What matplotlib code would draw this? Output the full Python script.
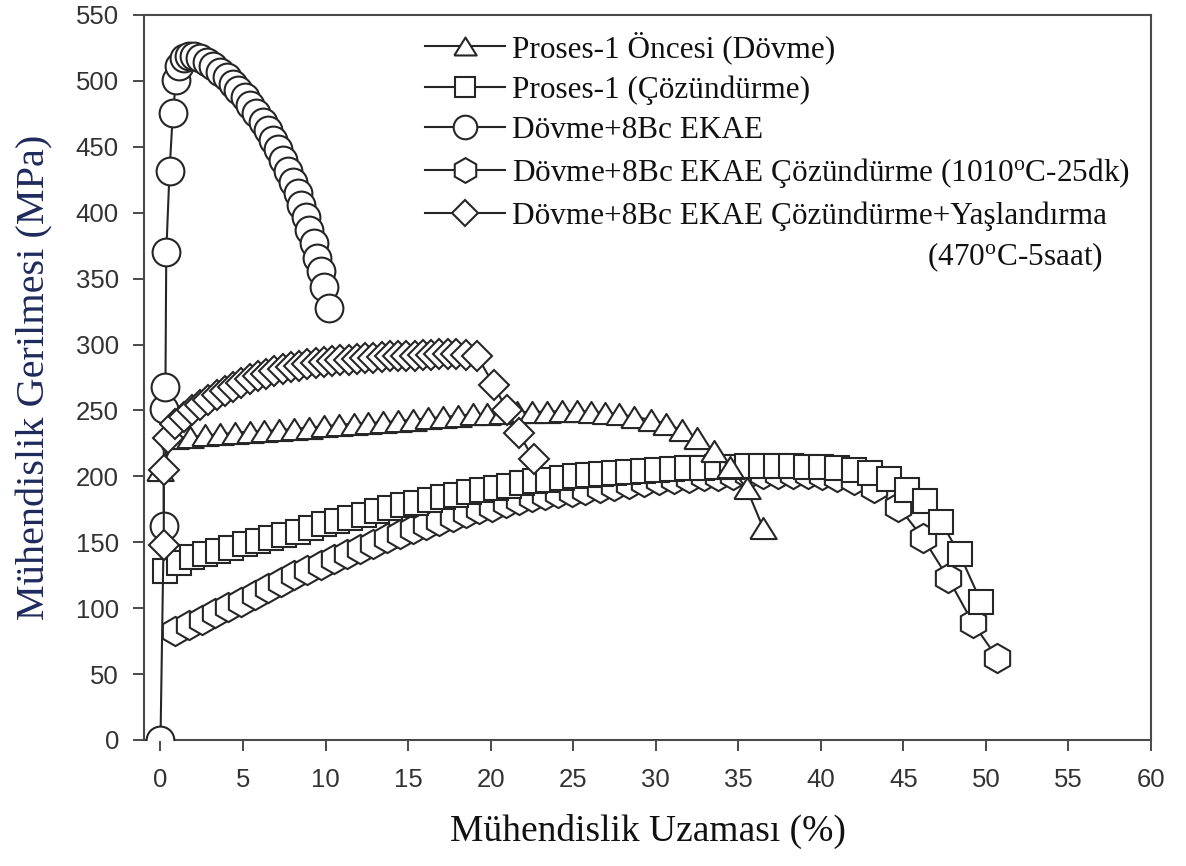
import matplotlib
matplotlib.use('Agg')
import matplotlib.pyplot as plt

plt.rcParams['mathtext.fontset'] = 'custom'
plt.rcParams['mathtext.rm'] = 'Liberation Serif'
plt.rcParams['mathtext.it'] = 'Liberation Serif'

# Proses-1 Öncesi (Dövme)
tri_x = [0.0, 0.9, 1.8, 2.7, 3.6, 4.5, 5.4, 6.3, 7.2, 8.1, 9.0, 9.9, 10.8, 11.7,
         12.6, 13.5, 14.4, 15.3, 16.2, 17.1, 18.0, 18.9, 19.8, 20.7, 21.6, 22.5,
         23.4, 24.3, 25.2, 26.1, 26.9, 27.8, 28.7, 29.7, 30.6, 31.6, 32.5, 33.5,
         34.5, 35.5, 36.5]
tri_y = [205, 229, 230, 231, 232, 233, 234, 234.5, 235, 236, 237, 238, 239, 240,
         240.5, 241, 242, 243, 244, 245, 246, 247, 247.5, 248, 248.5, 249,
         249, 249.5, 249.5, 249, 248, 247, 245, 243, 240, 235, 229, 219,
         207, 191, 161]

# Proses-1 (Çözündürme)
sq_x = [0.3, 1.1, 1.9, 2.7, 3.5, 4.3, 5.1, 5.9, 6.7, 7.5, 8.3, 9.1, 9.9, 10.7,
        11.5, 12.3, 13.1, 13.9, 14.7, 15.5, 16.3, 17.1, 17.9, 18.7, 19.5, 20.3,
        21.1, 21.9, 22.7, 23.5, 24.3, 25.1, 25.9, 26.7, 27.5, 28.3, 29.2, 30.1,
        31.0, 31.9, 32.8, 33.7, 34.6, 35.5, 36.4, 37.3, 38.2, 39.1, 40.0, 41.0,
        42.0, 43.0, 44.1, 45.2, 46.3, 47.3, 48.4, 49.7]
sq_y = [128, 134, 139, 141, 143.5, 146, 148.5, 151, 153, 155.5, 158, 160.5, 163.5, 166,
        168.5, 171, 173.5, 176, 178, 180, 182, 184, 186, 188, 190, 191.5,
        193, 195, 196.5, 197.5, 198.5, 200, 201, 202, 202.5, 203, 204, 205,
        205.5, 206, 206.5, 207, 207, 207.5, 207.5, 207.5, 207.5, 207, 207, 206,
        205, 202.5, 198, 190, 181, 165, 141, 105]

# Dövme+8Bc EKAE
cir_x = [0.0, 0.2, 0.2, 0.3, 0.35, 0.55, 0.75, 0.95, 1.15, 1.4, 1.7, 2.0, 2.4,
         2.8, 3.2, 3.6, 4.0, 4.4, 4.7, 5.1, 5.4, 5.8, 6.2, 6.5, 6.8, 7.1, 7.4,
         7.7, 8.0, 8.3, 8.5, 8.8, 9.0, 9.3, 9.5, 9.7, 9.9, 10.2]
cir_y = [0, 162, 251, 268, 370, 432, 476, 501, 511, 517, 519, 519, 517,
         514, 511, 507, 503, 498, 493, 488, 482, 476, 469, 463, 455, 448, 440,
         432, 423, 415, 406, 397, 387, 377, 366, 356, 344, 328]

# Dövme+8Bc EKAE Çözündürme (1010°C-25dk)
hex_x = [0.9, 1.7, 2.5, 3.3, 4.1, 4.9, 5.7, 6.5, 7.3, 8.1, 8.9, 9.7, 10.5, 11.3,
         12.1, 12.9, 13.7, 14.5, 15.3, 16.1, 16.9, 17.7, 18.5, 19.3, 20.1, 20.9,
         21.7, 22.5, 23.3, 24.1, 24.9, 25.7, 26.6, 27.5, 28.4, 29.3, 30.2, 31.1,
         32.0, 32.9, 33.8, 34.7, 35.6, 36.5, 37.4, 38.3, 39.2, 40.1, 41.0, 42.0,
         43.2, 44.7, 46.2, 47.7, 49.2, 50.7]
hex_y = [83, 87, 91, 96, 101, 105, 110, 115, 120, 125, 129, 133, 137, 141,
         145, 149, 153, 156, 160, 163, 166, 169, 172, 175, 177, 180,
         182, 184, 185.5, 187, 188.5, 190, 191.5, 193, 194.5, 196, 197, 198,
         199, 200, 200.5, 201, 201.5, 202, 202, 202, 201.5, 201, 199.5, 197,
         191, 177, 153, 123, 89, 62]

# Dövme+8Bc EKAE Çözündürme+Yaşlandırma (470°C-5saat)
dia_x = [0.2, 0.2, 0.45, 0.9, 1.4, 1.9, 2.4, 2.9, 3.4, 3.9, 4.4, 4.9, 5.4, 5.9,
         6.4, 6.9, 7.4, 7.9, 8.4, 8.9, 9.4, 9.9, 10.4, 10.9, 11.4, 11.9, 12.4,
         12.9, 13.4, 13.9, 14.4, 14.9, 15.4, 15.9, 16.4, 16.9, 17.4, 17.9, 18.5,
         19.2, 20.2, 21.0, 21.7, 22.6]
dia_y = [148, 205, 229, 240, 245, 250, 254, 258, 262, 265, 268, 271, 274, 276,
         278, 280, 281.5, 283, 284, 285, 286, 287, 287.5, 288, 288.5, 289, 289.5,
         290, 290.5, 291, 291, 291.5, 291.5, 292, 292, 292.5, 292.5, 292.5, 292,
         291, 269, 250, 233, 213]

labels = ['Proses-1 Öncesi (Dövme)',
          'Proses-1 (Çözündürme)',
          'Dövme+8Bc EKAE',
          'Dövme+8Bc EKAE Çözündürme (1010$^{\\mathrm{o}}$C-25dk)',
          'Dövme+8Bc EKAE Çözündürme+Yaşlandırma']

ink = '#262626'
tri_marker = [(-1, -0.8), (1, -0.8), (0, 0.8), (-1, -0.8)]

fig = plt.figure(figsize=(11.86, 8.66), dpi=100)
ax = fig.add_axes([0.1214, 0.1455, 0.8491, 0.8372])

style = dict(color=ink, lw=1.5, mfc='white', mec=ink, mew=1.5)
l_tri, = ax.plot(tri_x, tri_y, marker=tri_marker, ms=19, zorder=4, **style)
l_sq, = ax.plot(sq_x, sq_y, marker='s', ms=17.5, zorder=3, **style)
l_cir, = ax.plot(cir_x, cir_y, marker='o', ms=20, zorder=5, **style)
l_hex, = ax.plot(hex_x, hex_y, marker='h', ms=21, zorder=2, **style)
l_dia, = ax.plot(dia_x, dia_y, marker='D', ms=15, zorder=6, **style)

ax.set_xlim(-1.0, 60)
ax.set_ylim(0, 550)
ax.set_xticks(range(0, 61, 5))
ax.set_yticks(range(0, 551, 50))

for s in ax.spines.values():
    s.set_color('#4a4a4a')
    s.set_linewidth(1.5)
ax.tick_params(direction='out', length=8, width=1.4, color='#4a4a4a',
               labelcolor='#333333', labelsize=18.5, top=False, right=False)
ax.tick_params(axis='x', pad=12)
ax.tick_params(axis='y', pad=10)
for t in ax.get_xticklabels() + ax.get_yticklabels():
    t.set_family('Liberation Sans')

ax.set_xlabel('Mühendislik Uzaması (%)', family='Liberation Serif',
              fontsize=27, color='#111111', labelpad=16)
ax.set_ylabel('Mühendislik Gerilmesi (MPa)', family='Liberation Serif',
              fontsize=29, color='#1f2a5c', labelpad=16)

leg = ax.legend([l_tri, l_sq, l_cir, l_hex, l_dia], labels,
                loc='upper left', bbox_to_anchor=(425 / 1186, 1 - 31 / 866),
                bbox_transform=fig.transFigure, frameon=False,
                prop={'family': 'Liberation Serif', 'size': 22.5},
                handlelength=2.55, handletextpad=0.22, labelspacing=0.36,
                borderpad=0, borderaxespad=0, markerscale=0.85)
for t in leg.get_texts():
    t.set_color('#111111')

fig.text(1103 / 1186, 1 - 257 / 866, '(470$^{\\mathrm{o}}$C-5saat)',
         family='Liberation Serif', fontsize=22.5, color='#111111',
         ha='right', va='center')

fig.savefig('out.png', dpi=100)
